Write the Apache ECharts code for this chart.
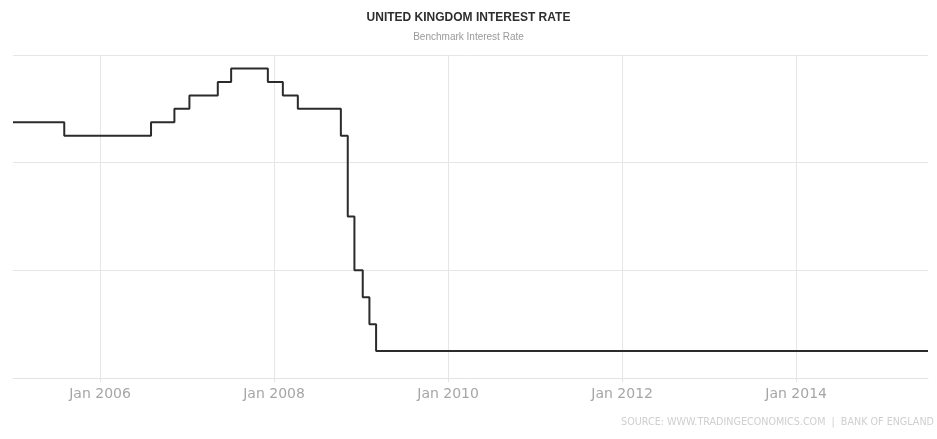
<!DOCTYPE html>
<html>
<head>
<meta charset="utf-8">
<script src="https://cdn.jsdelivr.net/npm/echarts@6/dist/echarts.min.js"></script>
<style>
  html, body { margin: 0; padding: 0; background: #fff; }
  #chart { width: 937px; height: 439px; }
</style>
</head>
<body>
<div id="chart"></div>
<script>
// Bank of England bank rate, change dates and the new rate (%)
const rateDates = [
  '2005-01-01', '2005-08-04', '2006-08-03', '2006-11-09', '2007-01-11',
  '2007-05-10', '2007-07-05', '2007-12-06', '2008-02-07', '2008-04-10',
  '2008-10-08', '2008-11-06', '2008-12-04', '2009-01-08', '2009-02-05',
  '2009-03-05', '2015-07-08'
]
const rateValues = [
  4.75, 4.5, 4.75, 5.0, 5.25,
  5.5, 5.75, 5.5, 5.25, 5.0,
  4.5, 3.0, 2.0, 1.5, 1.0,
  0.5, 0.5
]
const tickYears = [2006, 2008, 2010, 2012, 2014]

// date string -> fractional year, so the x axis can be a plain value axis
const toYear = (s) => {
  const p = s.split('-').map(Number)
  const start = Date.UTC(p[0], 0, 1)
  const end = Date.UTC(p[0] + 1, 0, 1)
  return p[0] + (Date.UTC(p[0], p[1] - 1, p[2]) - start) / (end - start)
}
const seriesData = rateDates.map((d, i) => [toYear(d), rateValues[i]])

const chart = echarts.init(document.getElementById('chart'))
const option = {
  backgroundColor: '#ffffff',
  animation: false,
  title: {
    text: 'UNITED KINGDOM INTEREST RATE',
    subtext: 'Benchmark Interest Rate',
    left: 'center',
    top: 7,
    itemGap: 8,
    textStyle: {
      color: '#2e2e2e',
      fontSize: 12,
      fontWeight: 'bold',
      fontFamily: 'Liberation Sans'
    },
    subtextStyle: {
      color: '#999999',
      fontSize: 10,
      fontFamily: 'Liberation Sans'
    }
  },
  grid: {
    left: 13,
    right: 9,
    top: 55,
    bottom: 61
  },
  xAxis: {
    type: 'value',
    min: toYear('2005-01-01'),
    max: toYear('2015-07-08'),
    axisLine: {
      show: true,
      lineStyle: { color: '#e3e3e3' }
    },
    axisTick: {
      show: true,
      customValues: tickYears,
      length: 4,
      lineStyle: { color: '#e3e3e3' }
    },
    axisLabel: {
      customValues: tickYears,
      margin: 9,
      color: '#a6a6a6',
      fontSize: 14,
      fontFamily: 'DejaVu Sans',
      formatter: (v) => 'Jan ' + Math.round(v)
    },
    splitLine: {
      show: true,
      lineStyle: { color: '#e6e6e6' }
    }
  },
  yAxis: {
    type: 'value',
    min: 0,
    max: 6,
    interval: 2,
    axisLine: { show: false },
    axisTick: { show: false },
    axisLabel: { show: false },
    splitLine: {
      show: true,
      lineStyle: { color: '#e6e6e6' }
    }
  },
  series: [{
    name: 'Interest Rate',
    type: 'line',
    step: 'end',
    symbol: 'none',
    data: seriesData,
    lineStyle: {
      color: '#2b2b2b',
      width: 2
    }
  }],
  graphic: [{
    type: 'text',
    right: 3,
    top: 417,
    style: {
      text: 'SOURCE: WWW.TRADINGECONOMICS.COM  |  BANK OF ENGLAND',
      fill: '#cfcfcf',
      fontSize: 9.6,
      fontFamily: 'DejaVu Sans'
    }
  }]
}
chart.setOption(option)
</script>
</body>
</html>
